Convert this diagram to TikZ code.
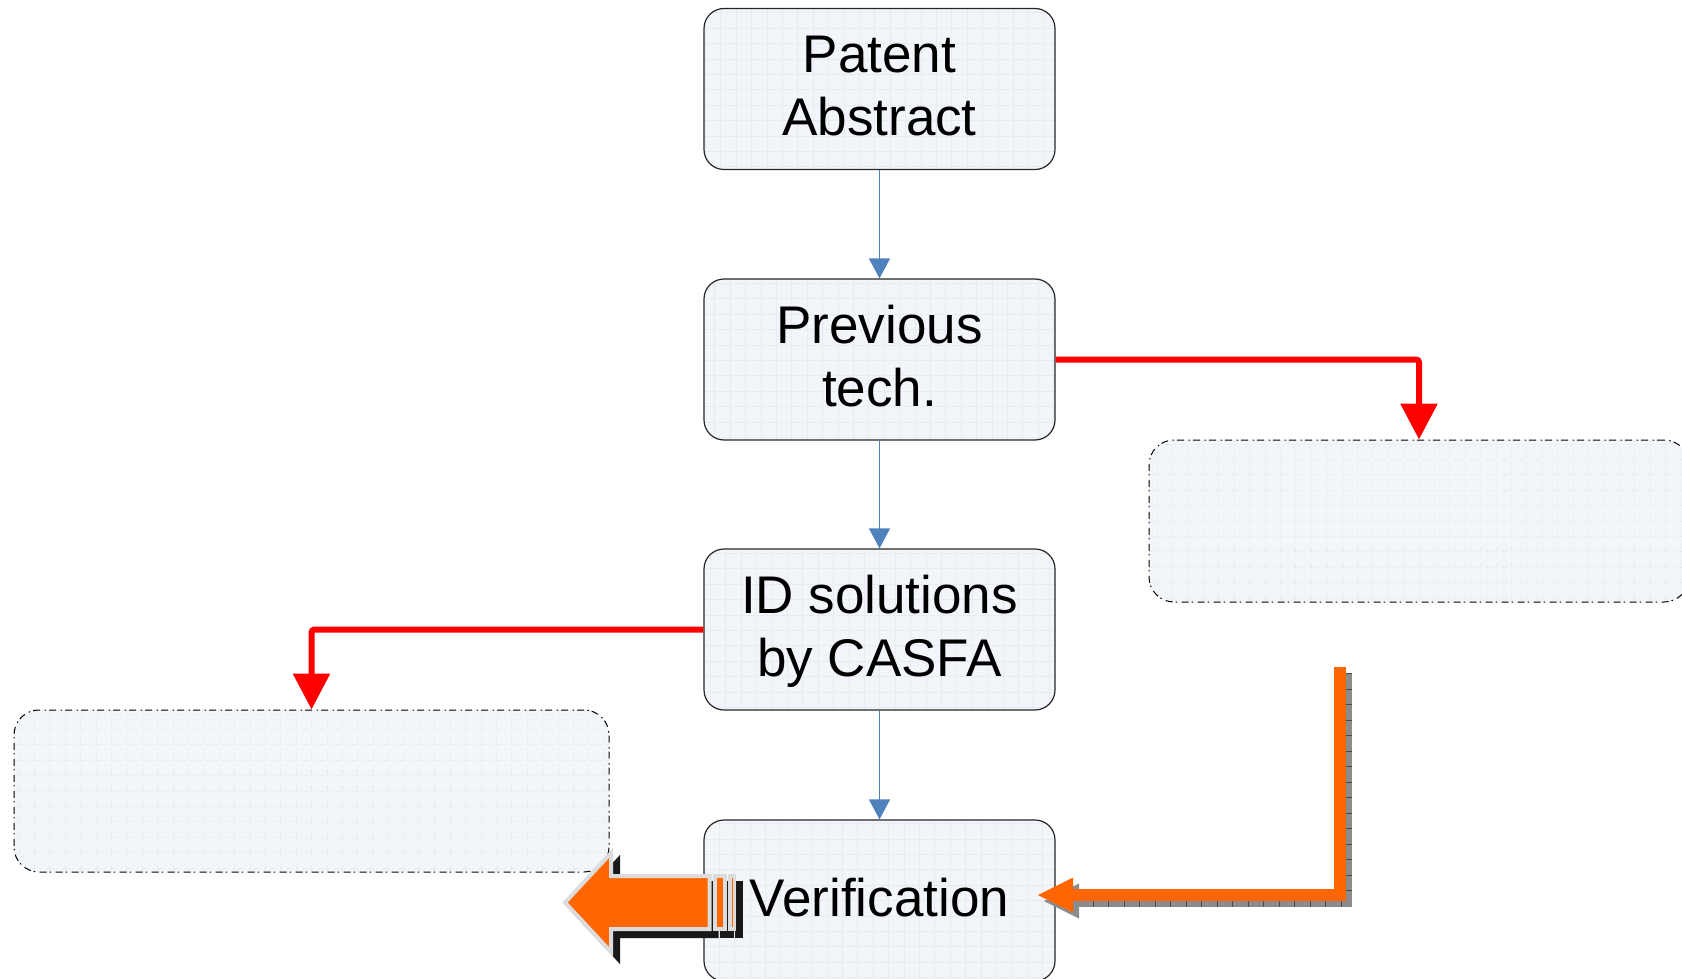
\documentclass[tikz,border=0pt]{standalone}
\usepackage{fontspec}
\setmainfont{Liberation Sans}
\usetikzlibrary{arrows.meta}

\definecolor{boxfill}{HTML}{F2F5FA}
\definecolor{gridc}{HTML}{E8ECF2}
\definecolor{flowblue}{HTML}{4F81BD}
\definecolor{hotorange}{HTML}{FF6600}
\definecolor{rimgray}{HTML}{DCDCDC}
\definecolor{shadegray}{HTML}{8C8C8C}
\definecolor{tickgray}{HTML}{4A4A4A}

% fixed line box: 47pt above the baseline, 16pt below
\newcommand{\linestrut}{\rule[-16pt]{0pt}{63pt}}

\tikzset{
  gridfill/.style={fill=boxfill,
    path picture={\draw[gridc, line width=0.7pt]
      (path picture bounding box.south west) grid[step=15.4pt] (path picture bounding box.north east);}},
  flowbox/.style={gridfill, draw=black!85, line width=1.2pt, rounded corners=20pt,
    minimum width=351pt, minimum height=161pt, inner sep=0pt, align=center,
    font=\fontsize{53}{63}\selectfont},
  notebox/.style={gridfill, draw=black, line width=1pt,
    dash pattern=on 7pt off 3pt on 1.5pt off 4.5pt, rounded corners=25pt,
    minimum height=162pt, inner sep=0pt},
  flowline/.style={flowblue, line width=1.3pt, -{Triangle[length=20pt,width=21pt]}},
  redline/.style={red, line width=6pt, rounded corners=3pt, -{Triangle[length=36pt,width=36pt]}},
}

\begin{document}
\begin{tikzpicture}[x=1pt, y=-1pt]
  \useasboundingbox (0,0) rectangle (1682,979);
  \clip (0,0) rectangle (1682,979);

  % main column
  \node[flowbox] (pa)  at (879.5,89)    {\linestrut Patent\\\linestrut Abstract};
  \node[flowbox] (pt)  at (879.5,359.5) {\linestrut Previous\\\linestrut tech.};
  \node[flowbox] (id)  at (879.5,629.5) {\linestrut ID solutions\\\linestrut by CASFA};
  \node[flowbox] (ver) at (879.5,900.5) {\linestrut Verification};

  % empty side boxes
  \node[notebox, minimum width=540pt] (rbox) at (1419,521) {};
  \node[notebox, minimum width=595pt] (lbox) at (311.5,791) {};

  % blue flow connectors
  \draw[flowline] (pa.south) -- (pt.north);
  \draw[flowline] (pt.south) -- (id.north);
  \draw[flowline] (id.south) -- (ver.north);

  % red branch connectors
  \draw[redline] (pt.east) -| (rbox.north);
  \draw[redline] (id.west) -| (lbox.north);

  % orange feedback arrow with ruled shadow
  \coordinate (ofeed) at (1340,667);
  \coordinate (otip) at (1038,895);
  \begin{scope}[shift={(6,6)}]
    \draw[shadegray, line width=11.7pt, line join=miter] (1340,667) |- (1070,895);
    \draw[tickgray, line width=11.7pt, dash pattern=on 1pt off 14.5pt] (1340,667) |- (1070,895);
    \fill[shadegray] (1038,895) -- (1073,877.5) -- (1073,912.5) -- cycle;
  \end{scope}
  \draw[hotorange, line width=11.7pt, line join=miter] (ofeed) |- (1070,895);
  \fill[hotorange] (otip) -- (1073,877.5) -- (1073,912.5) -- cycle;

  % striped block arrow leaving Verification
  \foreach \d/\fc/\dc in {7/black!90/black!90, 0/hotorange/rimgray} {
    \begin{scope}[shift={(\d,\d)}]
      \filldraw[fill=\fc, draw=\dc, line width=4pt, line join=miter]
        (565,902.5) -- (611,853) -- (611,876) -- (709.5,876) -- (709.5,929)
        -- (611,929) -- (611,952) -- cycle;
      \filldraw[fill=\fc, draw=\dc, line width=4pt] (715,876) rectangle (724.5,929);
      \filldraw[fill=\fc, draw=\dc, line width=3.5pt] (730,876) rectangle (734.5,929);
    \end{scope}
  }
\end{tikzpicture}
\end{document}
